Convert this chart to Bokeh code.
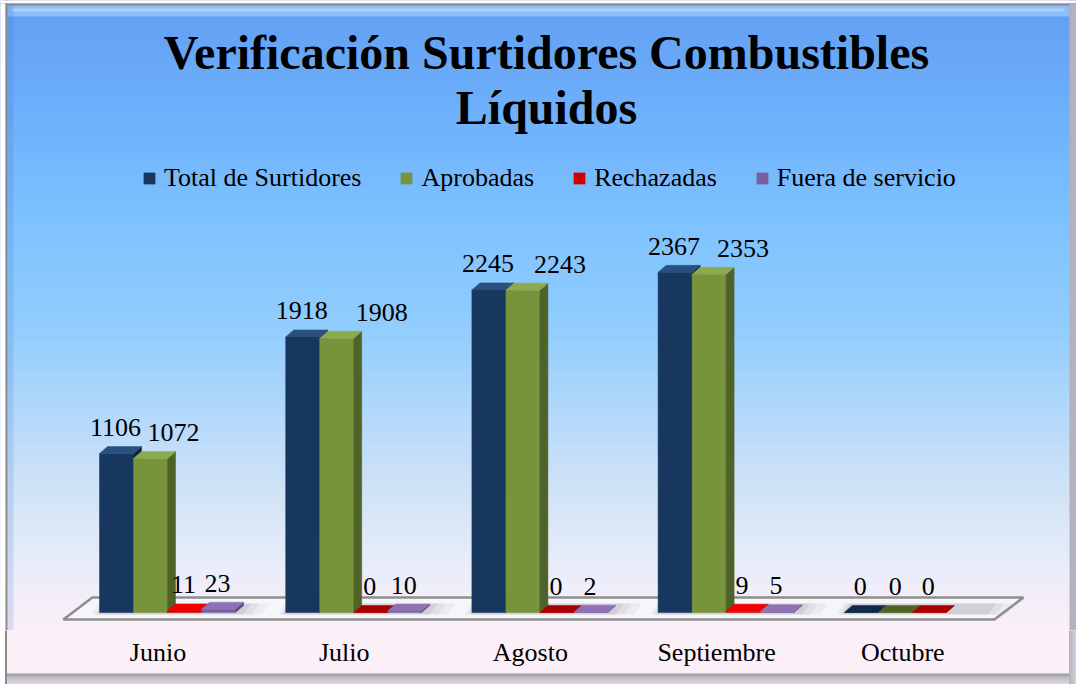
import numpy as np
from bokeh.plotting import figure
from bokeh.models import (Range1d, FixedTicker, Legend, LegendItem,
                          ColumnDataSource, Label)
from bokeh.core.properties import value
from bokeh.embed import file_html
from bokeh.resources import INLINE

# ---------------- data ----------------
months = ["Junio", "Julio", "Agosto", "Septiembre", "Octubre"]
series_names = ["Total de Surtidores", "Aprobadas", "Rechazadas", "Fuera de servicio"]
total_surtidores = [1106, 1918, 2245, 2367, 0]
aprobadas = [1072, 1908, 2243, 2353, 0]
rechazadas = [11, 0, 0, 9, 0]
fuera_de_servicio = [23, 10, 2, 5, None]
title_lines = ["Verificación Surtidores Combustibles", "Líquidos"]

series_values = [total_surtidores, aprobadas, rechazadas, fuera_de_servicio]

# ---------------- styling / layout ----------------
W, H = 1076, 684
FRAME_H = 630                 # frame height in px (axis area below)
PX_CAT = 186.2                # px per category
CAT0 = 157.5                  # px of first category tick from left
PX_VAL = 0.1437               # px per unit value
ZERO_PX = 612                 # px from top where value 0 sits

def ux(px):
    return px / PX_CAT

def uy(px):
    return px / PX_VAL

def vy(px_from_top):
    return (ZERO_PX - px_from_top) / PX_VAL

def vx(px_from_left):
    return (px_from_left - CAT0) / PX_CAT

x_start = vx(0)
x_end = vx(W)
y_start = vy(FRAME_H)
y_end = vy(0)

BW = ux(34)
GROUP_OFF = ux(9.5)
DX, DY = ux(8), uy(7)

front_colors = ["#17375E", "#77933C", "#D00000", "#7B5E9F"]
top_colors = ["#29507E", "#8CAB4C", "#F20000", "#8F72B5"]
side_colors = ["#0E2440", "#4F6228", "#960000", "#5B4677"]
zero_top_colors = ["#0F2A4A", "#4E6426", "#A80000", "#5B4677"]
label_dx_px = [[-1] * 5, [23, 45, 37, 34, 0], [-1] * 5, [-1] * 5]

FONT = "Liberation Serif"
BOTTOM_BG = "#fbeff8"

outer_css = ("linear-gradient(to right, #ffffff 0px, #ffffff 5px, #8c8c8c 5px, #8c8c8c 7px, "
             "rgba(0,0,0,0) 7px, rgba(0,0,0,0) 1069px, #b4b0bc 1069px, #d4d0dc 1076px), "
             "linear-gradient(to bottom, %s 0px, %s 673px, #9c98a2 674px, #c4c0ca 678px, "
             "#dedae2 684px)" % (BOTTOM_BG, BOTTOM_BG))

p = figure(width=W, height=H, output_backend="svg", toolbar_location=None,
           x_range=Range1d(x_start, x_end), y_range=Range1d(y_start, y_end),
           y_axis_location=None, min_border_left=0, min_border_right=0,
           min_border_top=0, min_border_bottom=H - FRAME_H,
           styles={"background": outer_css})
p.grid.visible = False
p.outline_line_color = None
p.border_fill_alpha = 0
p.background_fill_color = BOTTOM_BG

# ---------------- background gradient ----------------
stops = [(0, (98, 158, 243)), (100, (108, 174, 250)), (230, (128, 195, 255)),
         (330, (146, 205, 253)), (420, (182, 217, 250)), (490, (208, 227, 246)),
         (570, (234, 237, 250)), (630, (251, 239, 248))]
band = 4
bl, br, bb, bt, bc = [], [], [], [], []
for y0 in range(0, FRAME_H, band):
    yc = y0 + band / 2
    c = stops[-1][1]
    for (a, ca), (b, cb) in zip(stops[:-1], stops[1:]):
        if a <= yc <= b:
            t = (yc - a) / (b - a)
            c = tuple(int(round(ca[i] + (cb[i] - ca[i]) * t)) for i in range(3))
            break
    bl.append(x_start); br.append(x_end)
    bt.append(vy(y0))
    bb.append(vy(y0 + band + 1))
    bc.append("#%02x%02x%02x" % c)
p.quad(left=bl, right=br, bottom=bb, top=bt, fill_color=bc, line_color=None)

# frame border / bevel
p.quad(left=[vx(7), vx(12)], right=[vx(1069), vx(1064)],
       bottom=[vy(16), vy(11)], top=[vy(5), vy(8)],
       fill_color=["#a6d2ff", "#c2e2ff"], fill_alpha=[0.6, 0.6], line_color=None)
p.quad(left=[vx(7)], right=[vx(13)], bottom=[y_start], top=[vy(5)],
       fill_color="#2a62c0", fill_alpha=0.15, line_color=None)
p.quad(left=[x_start, x_start, x_start, vx(5), vx(1069)],
       right=[x_end, x_end, vx(5), vx(7), x_end],
       bottom=[vy(3), vy(5), y_start, y_start, y_start],
       top=[y_end, vy(3), vy(3), vy(3), vy(3)],
       fill_color=["#ffffff", "#8c8c8c", "#ffffff", "#8c8c8c", "#b4b0bc"],
       line_color=None)

# ---------------- floor ----------------
n = len(months)
fx0 = -0.5 - ux(1.5)
fx1 = n - 0.5 - ux(1.5)
f_front = -uy(7)
f_back = uy(15)
fdx = ux(29)
p.patch([fx0, fx1, fx1 + fdx, fx0 + fdx], [f_front, f_front, f_back, f_back],
        fill_color="#f6f5fa", line_color="#8e8e8e", line_width=2.5)

# soft shadows around the bar groups on the floor
for i in range(n):
    gl = i + GROUP_OFF - 2 * BW
    gr = i + GROUP_OFF + 2 * BW
    for lpad, rpad, alpha in [(8, 26, 0.07), (5, 16, 0.09), (2, 8, 0.12)]:
        p.patch([gl - ux(lpad), gr + ux(rpad), gr + ux(rpad) + DX, gl - ux(lpad) + DX],
                [-uy(2), -uy(2), DY + uy(2), DY + uy(2)],
                fill_color="#6e6e78", fill_alpha=alpha, line_color=None)

# ---------------- bars ----------------
front_renderers = []
for k, vals in enumerate(series_values):
    xs = [i + GROUP_OFF + (k - 1.5) * BW for i in range(n)]
    tops = [np.nan if v is None else float(v) for v in vals]
    r = p.vbar(x=xs, width=BW, bottom=0, top=tops, fill_color=front_colors[k],
               line_color=front_colors[k], line_width=0.5)
    front_renderers.append(r)
    sx, sy, tx, ty, tc = [], [], [], [], []
    for x, v in zip(xs, vals):
        if v is None:
            continue
        x0, x1 = x - BW / 2, x + BW / 2
        sx.append([x1, x1 + DX, x1 + DX, x1])
        sy.append([0, DY, v + DY, v])
        tx.append([x0, x1, x1 + DX, x0 + DX])
        ty.append([v, v, v + DY, v + DY])
        tc.append(top_colors[k] if v > 0 else zero_top_colors[k])
    p.patches(sx, sy, fill_color=side_colors[k], line_color=side_colors[k], line_width=0.5)
    p.patches(tx, ty, fill_color=tc, line_color=tc, line_width=0.5)

# ---------------- data labels ----------------
lx, ly, lt, ldx = [], [], [], []
for k, vals in enumerate(series_values):
    for i, v in enumerate(vals):
        if v is None:
            continue
        lx.append(i + GROUP_OFF + (k - 1.5) * BW)
        ly.append(v)
        lt.append(str(v))
        ldx.append(label_dx_px[k][i])
src = ColumnDataSource(dict(x=lx, y=ly, text=lt, dx=ldx))
p.text(x="x", y="y", text="text", x_offset="dx", y_offset=-26, source=src,
       text_font=value(FONT), text_font_size="26px", text_color="#000000",
       text_align="center", text_baseline="alphabetic")

# ---------------- title ----------------
for line, ybase in zip(title_lines, [578, 523]):
    p.add_layout(Label(x=546, y=ybase, x_units="screen", y_units="screen",
                       text=line, text_font=FONT, text_font_size="48px",
                       text_font_style="bold", text_color="#000000",
                       text_align="center", text_baseline="alphabetic"))

# ---------------- legend ----------------
legend = Legend(items=[LegendItem(label=nm, renderers=[r])
                       for nm, r in zip(series_names, front_renderers)],
                orientation="horizontal", location=(142, 437),
                padding=0, margin=0, spacing=38, label_standoff=8,
                glyph_width=14, glyph_height=14,
                label_text_font=FONT, label_text_font_size="26px",
                label_text_color="#000000",
                background_fill_alpha=0, border_line_color=None)
p.add_layout(legend)

# ---------------- axis ----------------
ax = p.xaxis[0]
ax.ticker = FixedTicker(ticks=list(range(n)))
ax.major_label_overrides = {i: m for i, m in enumerate(months)}
ax.axis_line_color = None
ax.major_tick_line_color = None
ax.minor_tick_line_color = None
ax.major_tick_out = 0
ax.major_tick_in = 0
ax.major_label_standoff = 7
ax.major_label_text_font = FONT
ax.major_label_text_font_size = "26px"
ax.major_label_text_color = "#000000"

open("out.html", "w").write(file_html(p, INLINE))
